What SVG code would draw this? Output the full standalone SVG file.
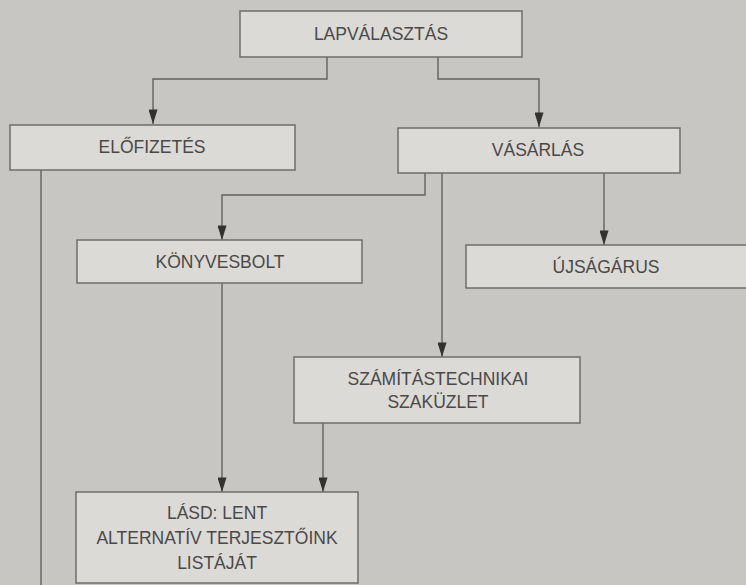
<svg xmlns="http://www.w3.org/2000/svg" width="746" height="585" viewBox="0 0 746 585">
<defs>
<style>
.bg{fill:#c8c6c2}
.box{fill:#dcdad6;stroke:#6e6d6b;stroke-width:1.5}
.t{font-family:"Liberation Sans",Arial,sans-serif;font-size:17.5px;fill:#4a4948;text-anchor:middle;dominant-baseline:central}
.c{fill:none;stroke:#626160;stroke-width:1.4}
</style>
<marker id="ar" viewBox="0 0 16 10" refX="16" refY="5" markerWidth="16" markerHeight="9" markerUnits="userSpaceOnUse" orient="auto">
<path d="M0,0 L16,5 L0,10 Z" fill="#333231"/>
</marker>
</defs>
<rect class="bg" x="0" y="0" width="746" height="585"/>
<g id="connectors">
<path class="c" d="M327,57 V79 H153 V124" marker-end="url(#ar)"/>
<path class="c" d="M438,57 V79 H539 V127" marker-end="url(#ar)"/>
<path class="c" d="M425,173 V195 H222 V240" marker-end="url(#ar)"/>
<path class="c" d="M442,173 V357" marker-end="url(#ar)"/>
<path class="c" d="M604,173 V245" marker-end="url(#ar)"/>
<path class="c" d="M41,170 V585"/>
<path class="c" d="M222,283 V492" marker-end="url(#ar)"/>
<path class="c" d="M323,423 V492" marker-end="url(#ar)"/>
</g>
<g id="lapvalasztas">
<rect class="box" x="240" y="11" width="282" height="46"/>
<text class="t" x="381" y="34">LAPVÁLASZTÁS</text>
</g>
<g id="elofizetes">
<rect class="box" x="10" y="125" width="285" height="45"/>
<text class="t" x="152" y="147">ELŐFIZETÉS</text>
</g>
<g id="vasarlas">
<rect class="box" x="398" y="128" width="282" height="45"/>
<text class="t" x="538" y="150">VÁSÁRLÁS</text>
</g>
<g id="konyvesbolt">
<rect class="box" x="77" y="240" width="285" height="43"/>
<text class="t" x="220" y="262">KÖNYVESBOLT</text>
</g>
<g id="ujsagarus">
<rect class="box" x="466" y="245" width="290" height="43"/>
<text class="t" x="606" y="267">ÚJSÁGÁRUS</text>
</g>
<g id="szamitastechnikai">
<rect class="box" x="294" y="357" width="286" height="66"/>
<text class="t" x="438" y="379">SZÁMÍTÁSTECHNIKAI</text>
<text class="t" x="438" y="402">SZAKÜZLET</text>
</g>
<g id="lasd">
<rect class="box" x="76" y="492" width="282" height="91"/>
<text class="t" x="217" y="513">LÁSD: LENT</text>
<text class="t" x="217" y="538">ALTERNATÍV TERJESZTŐINK</text>
<text class="t" x="217" y="563">LISTÁJÁT</text>
</g>
</svg>
